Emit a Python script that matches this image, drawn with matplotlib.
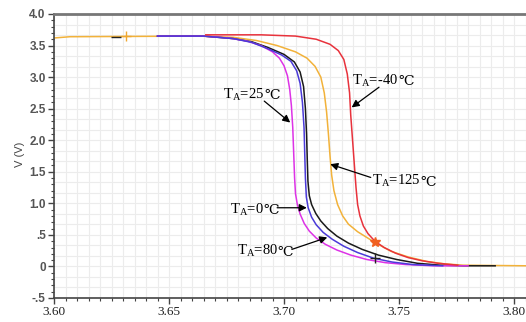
import numpy as np
import matplotlib
matplotlib.use('Agg')
import matplotlib.pyplot as plt
from matplotlib.ticker import MultipleLocator

# curves, V vs x, one per temperature
x_125 = [3.600, 3.607, 3.663, 3.678, 3.688, 3.697, 3.705, 3.710, 3.7135, 3.716, 3.7175,
         3.7185, 3.7193, 3.720, 3.7207, 3.7217, 3.7233, 3.7255, 3.728, 3.732, 3.7395,
         3.7465, 3.754, 3.762, 3.770, 3.778, 3.806]
y_125 = [3.62, 3.64, 3.65, 3.63, 3.58, 3.50, 3.40, 3.30, 3.17, 3.00, 2.75,
         2.45, 2.10, 1.75, 1.45, 1.20, 0.98, 0.80, 0.67, 0.55, 0.38,
         0.24, 0.15, 0.08, 0.04, 0.02, 0.01]

x_m40 = [3.666, 3.690, 3.705, 3.714, 3.720, 3.7236, 3.726, 3.7275, 3.7285, 3.729,
         3.7298, 3.7306, 3.7313, 3.732, 3.733, 3.7345, 3.7365, 3.7395, 3.7435, 3.7485,
         3.754, 3.760, 3.767, 3.7755]
y_m40 = [3.67, 3.67, 3.65, 3.60, 3.52, 3.42, 3.28, 3.05, 2.75, 2.40,
         2.00, 1.60, 1.25, 0.98, 0.80, 0.64, 0.52, 0.40, 0.30, 0.21,
         0.14, 0.09, 0.05, 0.02]

x_25 = [3.645, 3.665, 3.676, 3.684, 3.690, 3.695, 3.698, 3.700, 3.7015, 3.7025,
        3.7032, 3.7038, 3.7042, 3.7046, 3.705, 3.7058, 3.707, 3.7088, 3.711, 3.714,
        3.718, 3.723, 3.729, 3.736, 3.744, 3.753, 3.765, 3.780]
y_25 = [3.65, 3.65, 3.62, 3.57, 3.50, 3.40, 3.30, 3.18, 3.02, 2.80,
        2.55, 2.20, 1.80, 1.40, 1.15, 0.98, 0.83, 0.68, 0.56, 0.45,
        0.35, 0.26, 0.18, 0.11, 0.06, 0.03, 0.01, 0.01]

x_0 = [3.645, 3.665, 3.678, 3.686, 3.693, 3.699, 3.703, 3.7055, 3.707, 3.708,
       3.7087, 3.709, 3.7093, 3.7097, 3.7105, 3.712, 3.714, 3.717, 3.721, 3.726,
       3.732, 3.739, 3.747, 3.756, 3.769]
y_0 = [3.65, 3.65, 3.61, 3.55, 3.45, 3.35, 3.25, 3.10, 2.90, 2.60,
       2.20, 1.80, 1.40, 1.10, 0.93, 0.78, 0.66, 0.54, 0.43, 0.32,
       0.22, 0.13, 0.07, 0.03, 0.01]

x_80 = [3.645, 3.665, 3.678, 3.686, 3.693, 3.700, 3.7045, 3.707, 3.7085, 3.7093,
        3.7098, 3.7101, 3.7104, 3.711, 3.712, 3.7138, 3.716, 3.719, 3.723, 3.728,
        3.734, 3.741, 3.749, 3.758, 3.768, 3.778, 3.7918]
y_80 = [3.65, 3.65, 3.61, 3.56, 3.47, 3.36, 3.24, 3.08, 2.85, 2.50,
        2.10, 1.70, 1.35, 1.12, 0.98, 0.84, 0.72, 0.60, 0.48, 0.37,
        0.27, 0.18, 0.11, 0.05, 0.02, 0.01, 0.01]

# cursor marks
mark_x = [3.6315, 3.627, 3.7395, 3.7395]
mark_y = [3.65, 3.64, 0.39, 0.14]
mark_c = ['#f0a830', '#222222', '#f06020', '#222222']
mark_s = ['+', '_', '*', '+']

x_ticks = [3.60, 3.65, 3.70, 3.75, 3.80]
x_labels = ['3.60', '3.65', '3.70', '3.75', '3.80']
y_ticks = [-0.5, 0, 0.5, 1.0, 1.5, 2.0, 2.5, 3.0, 3.5, 4.0]
y_labels = ['-.5', '0', '.5', '1.0', '1.5', '2.0', '2.5', '3.0', '3.5', '4.0']

# labels: temperature, text left/baseline, arrow tail, arrow head
notes = [
    ('25', (3.6733, 2.67), (3.6914, 2.62), (3.7027, 2.28)),
    ('-40', (3.7297, 2.89), (3.7413, 2.84), (3.7294, 2.52)),
    ('125', (3.7383, 1.30), (3.7377, 1.41), (3.7201, 1.62)),
    ('0', (3.6763, 0.85), (3.6970, 0.93), (3.7099, 0.93)),
    ('80', (3.6794, 0.19), (3.7034, 0.27), (3.7188, 0.46)),
]

fig = plt.figure(figsize=(5.26, 3.22), dpi=100)
ax = fig.add_axes([54 / 526, 24 / 322, 472 / 526, 284 / 322])

ax.set_xlim(3.60, 3.8052)
ax.set_ylim(-0.5, 4.0)

# faint grid
for gx in np.arange(3.60, 3.806, 0.005):
    ax.axvline(gx, color='#ececec', lw=0.8, zorder=0)
for gy in np.arange(-0.5, 4.0, 0.5 / 3):
    ax.axhline(gy, color='#ececec', lw=0.8, zorder=0)

lw = 1.1
ax.plot(x_125, y_125, color='#f2b23a', lw=lw, zorder=2)
ax.plot(x_80, y_80, color='#1a1a1a', lw=lw, zorder=3)
ax.plot(x_25, y_25, color='#dd33e6', lw=lw, zorder=3)
ax.plot(x_0, y_0, color='#4a3ad8', lw=lw, zorder=4)
ax.plot(x_m40, y_m40, color='#e8323c', lw=lw, zorder=5)

for mx, my, mc, ms in zip(mark_x, mark_y, mark_c, mark_s):
    ax.plot(mx, my, marker=ms, color=mc, ms=7, mew=1.0, zorder=6)

for t, pos, tail, head in notes:
    txt = ax.text(pos[0], pos[1], r'T$_{\mathregular{A}}$=' + t, fontsize=10.5,
                  family='Liberation Serif', ha='left', va='baseline', zorder=7)
    ax.annotate('℃', xy=(1, 0), xycoords=txt, xytext=(0, 0.3),
                textcoords='offset points', ha='left', va='bottom', fontsize=10,
                family=['Liberation Serif', 'DejaVu Serif'], zorder=7)
    ax.annotate('', xy=head, xytext=tail,
                arrowprops=dict(arrowstyle='-|>', color='k', lw=0.9,
                                mutation_scale=11, shrinkA=0, shrinkB=0), zorder=7)

ax.set_xticks(x_ticks)
ax.set_xticklabels(x_labels, family='Liberation Serif', fontsize=9.5, color='#222222')
ax.set_yticks(y_ticks)
ax.set_yticklabels(y_labels, family='Liberation Sans', fontsize=8.5,
                   fontweight='bold', color='#555555')
ax.xaxis.set_minor_locator(MultipleLocator(0.005))
ax.yaxis.set_minor_locator(MultipleLocator(0.1))
ax.tick_params(axis='both', which='major', length=4, width=1, color='#444444', pad=2)
ax.tick_params(axis='both', which='minor', length=2.5, width=0.8, color='#444444')

for s in ['left', 'bottom']:
    ax.spines[s].set_color('#444444')
    ax.spines[s].set_linewidth(1.2)
ax.spines['top'].set_color('#777777')
ax.spines['top'].set_linewidth(2)
ax.spines['right'].set_visible(False)

fig.text(20 / 526, 1 - 154 / 322, 'V (V)', rotation=90, ha='center', va='center',
         family='Liberation Sans', fontsize=8, color='#444444')

fig.savefig('out.png', dpi=100)
